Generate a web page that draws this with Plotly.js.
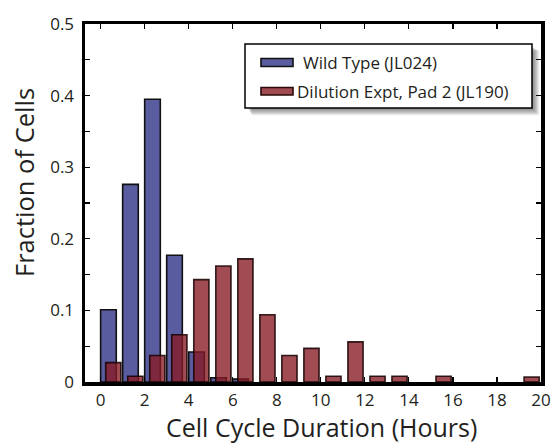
<!DOCTYPE html>
<html>
<head>
<meta charset="utf-8">
<script src="https://cdn.plot.ly/plotly-3.0.1.min.js"></script>
<style>
html,body{margin:0;padding:0;background:#fff;}
#chart{width:554px;height:444px;}
</style>
</head>
<body>
<div id="chart"></div>
<script>
// ---- data ----
var wildTypeBins = [0, 1, 2, 3, 4, 5, 6];
var wildTypeFrac = [0.101, 0.276, 0.395, 0.177, 0.042, 0.006, 0.004];
var dilutionBins = [0, 1, 2, 3, 4, 5, 6, 7, 8, 9, 10, 11, 12, 13, 14, 15, 16, 17, 18, 19];
var dilutionFrac = [0.027, 0.008, 0.037, 0.066, 0.143, 0.162, 0.172, 0.094, 0.037, 0.047,
                    0.008, 0.056, 0.008, 0.008, 0, 0.008, 0, 0, 0, 0.007];
var xTickVals = [0, 2, 4, 6, 8, 10, 12, 14, 16, 18, 20];
var xTickText = ['0', '2', '4', '6', '8', '10', '12', '14', '16', '18', '20'];
var yTickVals = [0, 0.05, 0.1, 0.15, 0.2, 0.25, 0.3, 0.35, 0.4, 0.45, 0.5];
var yTickText = ['0', '', '0.1', '', '0.2', '', '0.3', '', '0.4', '', '0.5'];
var seriesNames = ['Wild Type (JL024)', 'Dilution Expt, Pad 2 (JL190)'];

var blue = 'rgb(90,92,160)';
var red = 'rgba(135,25,35,0.78)';
var FONT = 'Open Sans, DejaVu Sans, sans-serif';

var M = {l: 85, r: 13, t: 24, b: 62};
var W = 554, H = 444;
var PW = W - M.l - M.r, PH = H - M.t - M.b;
function px(x) { return (x - M.l) / PW; }
function py(y) { return (H - M.b - y) / PH; }

// empty bins are not drawn (no border line on the axis)
function nonEmpty(xs, ys) {
  var ox = [], oy = [];
  for (var i = 0; i < xs.length; i++) { if (ys[i] > 0) { ox.push(xs[i]); oy.push(ys[i]); } }
  return {x: ox, y: oy};
}
var wt = nonEmpty(wildTypeBins, wildTypeFrac);
var dl = nonEmpty(dilutionBins, dilutionFrac);

var traces = [
  {
    type: 'bar', x: wt.x, y: wt.y, name: seriesNames[0],
    offset: 0, width: 0.71,
    marker: {color: blue, line: {color: '#111', width: 1.6}},
    showlegend: false, hoverinfo: 'x+y'
  },
  {
    type: 'bar', x: dl.x, y: dl.y, name: seriesNames[1],
    offset: 0.23, width: 0.69,
    marker: {color: red, line: {color: 'rgba(20,0,0,0.85)', width: 1.6}},
    showlegend: false, hoverinfo: 'x+y'
  }
];

// legend box (drawn with shapes)
var shapes = [];
var lb = {x0: 245, x1: 532, y0: 44, y1: 108};
for (var i = 8; i >= 1; i--) {
  shapes.push({
    type: 'rect', xref: 'paper', yref: 'paper', layer: 'above',
    x0: px(lb.x0 + 2 + i * 0.6), x1: px(lb.x1 + i * 0.9),
    y0: py(lb.y1 + i * 0.9), y1: py(lb.y0 + 2 + i * 0.6),
    fillcolor: 'rgba(0,0,0,0.07)', line: {width: 0}
  });
}
shapes.push({
  type: 'rect', xref: 'paper', yref: 'paper', layer: 'above',
  x0: px(lb.x0), x1: px(lb.x1), y0: py(lb.y1), y1: py(lb.y0),
  fillcolor: '#fff', line: {color: '#000', width: 1.5}
});
shapes.push({
  type: 'rect', xref: 'paper', yref: 'paper', layer: 'above',
  x0: px(261), x1: px(293), y0: py(66.5), y1: py(58.5),
  fillcolor: blue, line: {color: '#111', width: 1.6}
});
shapes.push({
  type: 'rect', xref: 'paper', yref: 'paper', layer: 'above',
  x0: px(261), x1: px(293), y0: py(95), y1: py(87.5),
  fillcolor: 'rgb(160,75,82)', line: {color: '#2a0a0a', width: 1.6}
});

var annotations = [
  {text: seriesNames[0], xref: 'paper', yref: 'paper', x: px(301), y: py(63),
   xanchor: 'left', yanchor: 'middle', showarrow: false,
   font: {family: FONT, size: 17, color: '#231f20'}},
  {text: seriesNames[1], xref: 'paper', yref: 'paper', x: px(295), y: py(91.5),
   xanchor: 'left', yanchor: 'middle', showarrow: false,
   font: {family: FONT, size: 17, color: '#231f20'}},
  {text: 'Cell Cycle Duration (Hours)', xref: 'paper', yref: 'paper',
   x: px(321.5), y: py(427), xanchor: 'center', yanchor: 'middle', showarrow: false,
   font: {family: FONT, size: 25, color: '#231f20'}},
  {text: 'Fraction of Cells', xref: 'paper', yref: 'paper', textangle: -90,
   x: px(24), y: py(183), xanchor: 'center', yanchor: 'middle', showarrow: false,
   font: {family: FONT, size: 25.5, color: '#231f20'}}
];

var axisCommon = {
  showgrid: false, zeroline: false, showline: true, linecolor: '#000', linewidth: 3.5,
  mirror: 'ticks', ticks: 'inside', ticklen: 5, tickwidth: 1.2, tickcolor: '#000',
  tickfont: {family: FONT, size: 17, color: '#231f20'}, fixedrange: true
};

var layout = {
  width: W, height: H, margin: M,
  paper_bgcolor: '#fff', plot_bgcolor: '#fff',
  barmode: 'overlay', showlegend: false,
  xaxis: Object.assign({}, axisCommon, {
    range: [-0.71, 20.0], tickmode: 'array', tickvals: xTickVals, ticktext: xTickText
  }),
  yaxis: Object.assign({}, axisCommon, {
    range: [0, 0.5], tickmode: 'array', tickvals: yTickVals, ticktext: yTickText,
    ticklabelstandoff: 4
  }),
  shapes: shapes, annotations: annotations
};

Plotly.newPlot('chart', traces, layout, {displayModeBar: false, staticPlot: true});
</script>
</body>
</html>
